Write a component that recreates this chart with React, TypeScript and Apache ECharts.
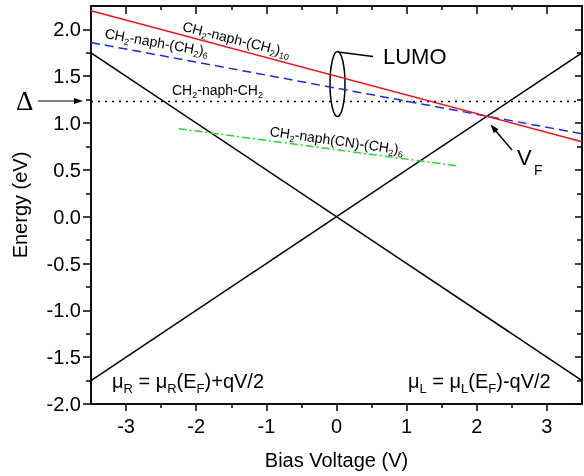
import React, { useEffect, useRef } from "react";
import * as echarts from "echarts";

// ---- data ----
const biasRange = [-3.5, 3.5];
const muRight = [1.75, -1.75]; // mu_R at biasRange ends
const muLeft = [-1.75, 1.75]; // mu_L at biasRange ends
const lumoC10 = [2.2, 0.8]; // CH2-naph-(CH2)10
const lumoC6 = [1.86, 0.885]; // CH2-naph-(CH2)6
const lumoC2 = [1.23, 1.23]; // CH2-naph-CH2
const lumoCNx = [-2.25, 1.75]; // CH2-naph(CN)-(CH2)6 x range
const lumoCN = [0.94, 0.54];

const xMajorTicks = [-3, -2, -1, 0, 1, 2, 3];
const xMinorTicks = [-2.5, -1.5, -0.5, 0.5, 1.5, 2.5];
const yMajorTicks = [-2, -1.5, -1, -0.5, 0, 0.5, 1, 1.5, 2];
const yMinorTicks = [-1.75, -1.25, -0.75, -0.25, 0.25, 0.75, 1.25, 1.75];

const FONT = "'Liberation Sans', Arial, sans-serif";

function pairs(xs: number[], ys: number[]) {
  return xs.map((x, i) => [x, ys[i]]);
}

function chemRich(size: number, sub: number) {
  return {
    a: { fontSize: size, fontFamily: FONT, fill: "#000", lineHeight: Math.round(size * 1.35) },
    s: { fontSize: sub, fontFamily: FONT, fill: "#000", verticalAlign: "bottom" },
  };
}

export default function App() {
  const ref = useRef<HTMLDivElement>(null);
  useEffect(() => {
    if (!ref.current) return;
    const chart = echarts.init(ref.current, undefined, { renderer: "svg" });
    const axisLine = { color: "#000", width: 1.5 };
    const xBase = (extra: any) => ({
      type: "value",
      min: biasRange[0],
      max: biasRange[1],
      splitLine: { show: false },
      axisLine: { show: true, onZero: false, lineStyle: axisLine },
      axisLabel: { show: false },
      ...extra,
    });
    const yBase = (extra: any) => ({
      type: "value",
      min: -2,
      max: 2.25,
      splitLine: { show: false },
      axisLine: { show: true, onZero: false, lineStyle: axisLine },
      axisLabel: { show: false },
      ...extra,
    });
    const lineSeries = (name: string, data: number[][], color: string, type: any, width = 1.5) => ({
      type: "line",
      name,
      data,
      showSymbol: false,
      symbol: "none",
      xAxisIndex: 0,
      yAxisIndex: 0,
      lineStyle: { color, width, type },
    });

    const option: any = {
      animation: false,
      grid: { left: 91, right: 2, top: 6, bottom: 72, containLabel: false },
      xAxis: [
        xBase({
          position: "bottom",
          axisTick: { show: true, customValues: xMajorTicks, length: 7, lineStyle: axisLine },
          axisLabel: { show: true, customValues: xMajorTicks, fontSize: 20, color: "#000", fontFamily: FONT, margin: 12 },
          name: "Bias Voltage (V)",
          nameLocation: "middle",
          nameGap: 46,
          nameTextStyle: { fontSize: 20, color: "#000", fontFamily: FONT },
        }),
        xBase({ position: "bottom", axisTick: { show: true, customValues: xMinorTicks, length: 4, lineStyle: axisLine } }),
        xBase({ position: "top", axisTick: { show: true, inside: true, customValues: xMajorTicks, length: 8, lineStyle: axisLine } }),
        xBase({ position: "top", axisTick: { show: true, inside: true, customValues: xMinorTicks, length: 4, lineStyle: axisLine } }),
      ],
      yAxis: [
        yBase({
          position: "left",
          axisTick: { show: true, customValues: yMajorTicks, length: 8, lineStyle: axisLine },
          axisLabel: {
            show: true,
            customValues: yMajorTicks,
            fontSize: 20,
            color: "#000",
            fontFamily: FONT,
            margin: 10,
            formatter: (v: number) => v.toFixed(1),
          },
          name: "Energy (eV)",
          nameLocation: "middle",
          nameGap: 61,
          nameTextStyle: { fontSize: 20, color: "#000", fontFamily: FONT },
        }),
        yBase({ position: "left", axisTick: { show: true, customValues: yMinorTicks, length: 5, lineStyle: axisLine } }),
        yBase({ position: "right", axisTick: { show: true, inside: true, customValues: yMajorTicks, length: 7, lineStyle: axisLine } }),
        yBase({ position: "right", axisTick: { show: true, inside: true, customValues: yMinorTicks, length: 5, lineStyle: axisLine } }),
      ],
      series: [
        lineSeries("muR", pairs(biasRange, muRight), "#000", "solid"),
        lineSeries("muL", pairs(biasRange, muLeft), "#000", "solid"),
        lineSeries("C2", pairs(biasRange, lumoC2), "#000", [2, 5]),
        lineSeries("CN", pairs(lumoCNx, lumoCN), "#22dd22", [8, 3, 2, 3]),
        lineSeries("C6", pairs(biasRange, lumoC6), "#1a2ee6", [9, 5]),
        lineSeries("C10", pairs(biasRange, lumoC10), "#e8141c", "solid"),
      ],
      graphic: [
        {
          type: "text",
          x: 183,
          y: 26,
          rotation: (-14 * Math.PI) / 180,
          style: { text: "{a|CH}{s|2}{a|-naph-(CH}{s|2}{a|)}{s|10}", rich: chemRich(14, 9), verticalAlign: "middle", align: "left" },
        },
        {
          type: "text",
          x: 105,
          y: 33,
          rotation: (-10 * Math.PI) / 180,
          style: { text: "{a|CH}{s|2}{a|-naph-(CH}{s|2}{a|)}{s|6}", rich: chemRich(14, 9), verticalAlign: "middle", align: "left" },
        },
        {
          type: "text",
          x: 172,
          y: 90,
          style: { text: "{a|CH}{s|2}{a|-naph-CH}{s|2}", rich: chemRich(14, 9), verticalAlign: "middle", align: "left" },
        },
        {
          type: "text",
          x: 270,
          y: 131,
          rotation: (-8 * Math.PI) / 180,
          style: { text: "{a|CH}{s|2}{a|-naph(CN)-(CH}{s|2}{a|)}{s|6}", rich: chemRich(14, 9), verticalAlign: "middle", align: "left" },
        },
        {
          type: "text",
          x: 383,
          y: 56,
          style: { text: "LUMO", fontSize: 22, fontFamily: FONT, fill: "#000", verticalAlign: "middle", align: "left" },
        },
        {
          type: "ellipse",
          shape: { cx: 337.5, cy: 84, rx: 7.5, ry: 32.5 },
          style: { fill: "none", stroke: "#000", lineWidth: 1.5 },
        },
        { type: "line", shape: { x1: 338, y1: 52, x2: 373, y2: 56.5 }, style: { stroke: "#000", lineWidth: 1.5 } },
        {
          type: "text",
          x: 16,
          y: 101,
          style: { text: "Δ", fontSize: 27, fontFamily: "'Liberation Serif', serif", fill: "#000", verticalAlign: "middle", align: "left" },
        },
        { type: "line", shape: { x1: 38, y1: 101, x2: 76, y2: 101 }, style: { stroke: "#000", lineWidth: 1.2 } },
        { type: "polygon", shape: { points: [[83, 101], [74, 98], [74, 104]] }, style: { fill: "#000" } },
        { type: "line", shape: { x1: 512, y1: 150, x2: 495, y2: 130 }, style: { stroke: "#000", lineWidth: 1.5 } },
        { type: "polygon", shape: { points: [[490.5, 124.5], [498.6, 129.3], [493.8, 133.2]] }, style: { fill: "#000" } },
        {
          type: "text",
          x: 517,
          y: 157,
          style: { text: "V", fontSize: 22, fontFamily: FONT, fill: "#000", verticalAlign: "middle", align: "left" },
        },
        {
          type: "text",
          x: 534,
          y: 170,
          style: { text: "F", fontSize: 14, fontFamily: FONT, fill: "#000", verticalAlign: "middle", align: "left" },
        },
        {
          type: "text",
          x: 112,
          y: 381,
          style: { text: "{a|μ}{s|R}{a| = μ}{s|R}{a|(E}{s|F}{a|)+qV/2}", rich: chemRich(20, 13), verticalAlign: "middle", align: "left" },
        },
        {
          type: "text",
          x: 408,
          y: 381,
          style: { text: "{a|μ}{s|L}{a| = μ}{s|L}{a|(E}{s|F}{a|)-qV/2}", rich: chemRich(20, 13), verticalAlign: "middle", align: "left" },
        },
      ],
    };
    chart.setOption(option);
    return () => chart.dispose();
  }, []);
  return <div ref={ref} style={{ position: "fixed", left: 0, top: 0, width: 584, height: 476 }} />;
}
